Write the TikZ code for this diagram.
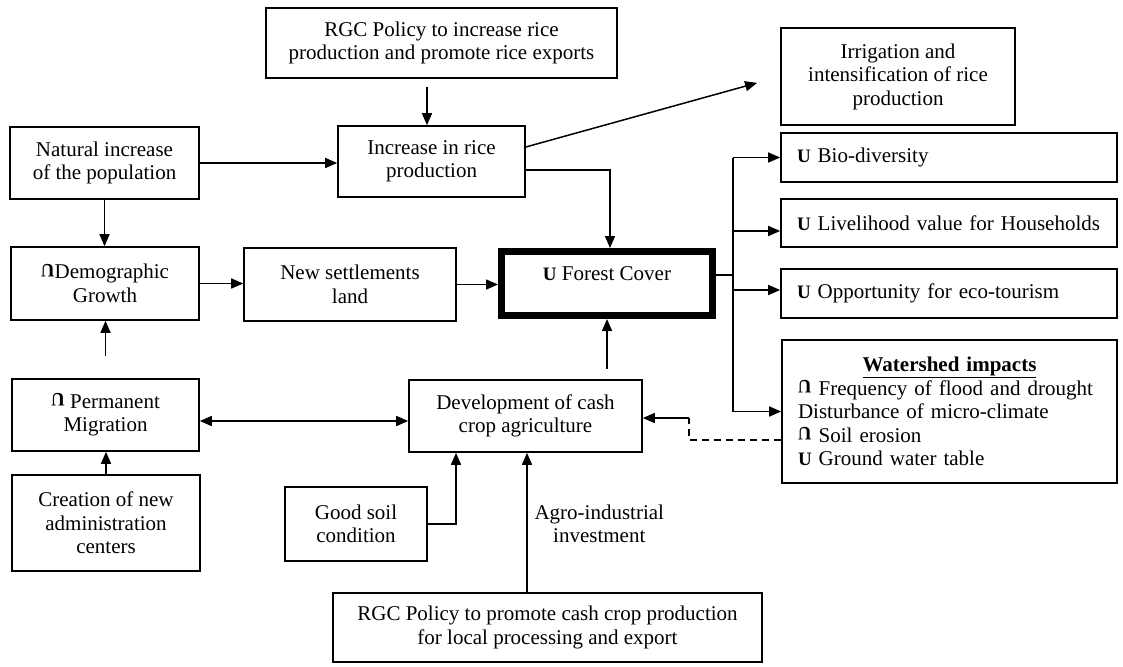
\documentclass[tikz,border=0pt]{standalone}
\usepackage{fontspec}
\setmainfont{Liberation Serif}
\usetikzlibrary{arrows.meta,calc,positioning}
\newcommand{\rises}{\raisebox{0.2ex}{\rotatebox[origin=c]{180}{\fontsize{19}{19}\selectfont\textbf{U}}}}
\newcommand{\falls}{{\fontsize{19}{19}\selectfont\textbf{U}}}
\tikzset{
  box/.style={draw,line width=1.6pt,align=center,inner sep=0pt},
  listbox/.style={box,align=left,inner xsep=16pt,text width=#1},
  arr/.style={line width=1.5pt,-{Triangle[length=12pt,width=10pt]}},
}

\begin{document}
\begin{tikzpicture}[x=1pt,y=-1pt,font=\fontsize{21}{23.5}\selectfont]
        \useasboundingbox (0,0) rectangle (1123,666);
        % left column
        \node[box,minimum width=189pt,minimum height=72pt] (natural) at (104.5,163) {Natural increase\\of the population};
        \node[box,minimum width=188pt,minimum height=73pt] (demog) at (105,283.5) {\rises Demographic\\Growth};
        \node[box,minimum width=187pt,minimum height=72pt] (perm) at (105.5,415) {\rises{} Permanent\\Migration};
        \node[box,minimum width=188pt,minimum height=96pt] (creation) at (106,523) {Creation of new\\administration\\centers};
        % middle
        \node[box,minimum width=351pt,minimum height=70pt] (rgcrice) at (441.5,43) {RGC Policy to increase rice\\production and promote rice exports};
        \node[box,minimum width=187pt,minimum height=71pt] (increase) at (431.5,161.5) {Increase in rice\\production};
        \node[box,minimum width=212pt,minimum height=73pt] (newset) at (350,284.5) {New settlements\\land};
        \node[box,line width=7pt,minimum width=211pt,minimum height=64pt,text depth=19pt] (forest) at (607,283.5) {\falls{} Forest Cover};
        \node[box,minimum width=233pt,minimum height=72pt] (dev) at (525.5,416) {Development of cash\\crop agriculture};
        \node[box,minimum width=142pt,minimum height=74pt] (soil) at (356,524) {Good soil\\condition};
        \node[box,minimum width=429pt,minimum height=69pt] (rgccash) at (547.5,627.5) {RGC Policy to promote cash crop production\\for local processing and export};
        \node[align=center,anchor=west] (agro) at (531,524) {Agro-industrial\\investment};
        % right column
        \node[box,minimum width=234pt,minimum height=97pt] (irrig) at (898,76.5) {Irrigation and\\intensification of rice\\production};
        \node[listbox=304pt,minimum height=49pt] (bio) at (949,157.5) {\falls{} Bio-diversity};
        \node[listbox=304pt,minimum height=48pt] (liveli) at (949,223) {\falls{} Livelihood value for Households};
        \node[listbox=304pt,minimum height=49pt] (eco) at (949,293.5) {\falls{} Opportunity for eco-tourism};
        \node[listbox=303pt,minimum height=143pt] (ws) at (949.5,411.5) {\makebox[\linewidth]{\textbf{\underline{Watershed impacts}}}\\
          \rises{} Frequency of flood and drought\\Disturbance of micro-climate\\\rises{} Soil erosion\\\falls{} Ground water table};
        % links
        \draw[arr,shorten <=8pt] ([xshift=-14.5pt]rgcrice.south) -- ([xshift=-4.5pt]increase.north);
        \draw[arr] (natural.east) -- (natural.east -| increase.west);
        \draw[arr,shorten >=24pt] ([yshift=14.5pt]increase.east) -- (irrig.west);
        \draw[arr] ([yshift=-8.5pt]increase.east) -| ([xshift=3pt]forest.north);
        \draw[arr] (natural.south) -- (natural.south |- demog.north);
        \draw[arr] (demog.east) -- (demog.east -| newset.west);
        \draw[arr] (newset.east) -- (newset.east -| forest.west);
        \draw[arr,shorten <=22pt] (perm.north) -- (perm.north |- demog.south);
        \draw[arr] (creation.north) -- (creation.north |- perm.south);
        \draw[arr,{Triangle[length=12pt,width=10pt]}-{Triangle[length=12pt,width=10pt]}] ([yshift=-6pt]perm.east) -- ([yshift=-6pt]perm.east -| dev.west);
        \draw[arr] (soil.east) -| ([xshift=-69.5pt]dev.south);
        \draw[arr] ([xshift=-20.5pt]rgccash.north) -- ([xshift=1.5pt]dev.south);
        \draw[arr,shorten <=10pt] (dev.north -| forest.south) -- (forest.south);
        % fan out of forest cover
        \coordinate (fork) at (733,275);
        \draw[line width=1.5pt] (forest.east |- fork) -- (fork);
        \draw[line width=1.5pt] (fork |- bio.west) -- (fork |- ws.west);
        \draw[arr] (fork |- bio.west) -- (bio.west);
        \draw[arr] (fork |- 0,231) -- (liveli.west |- 0,231);
        \draw[arr] (fork |- 0,290) -- (eco.west |- 0,290);
        \draw[arr] (fork |- ws.west) -- (ws.west);
        % feedback
        \coordinate (fb) at (689,418);
        \draw[line width=1.3pt,dash pattern=on 7pt off 5pt] ([yshift=-28.5pt]ws.west) -| (fb);
        \draw[arr] (fb) -- (fb -| dev.east);
      \end{tikzpicture}
\end{document}
